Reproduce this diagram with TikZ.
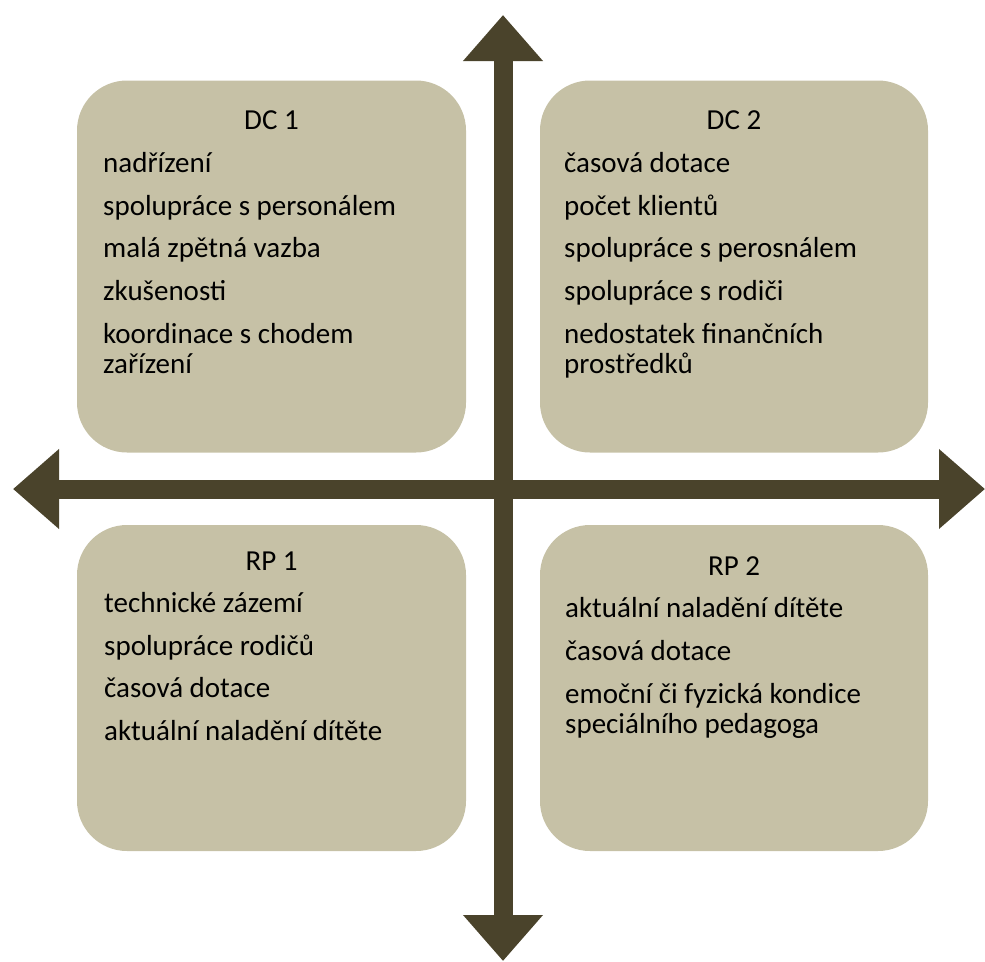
\documentclass[tikz,border=0pt]{standalone}
\usepackage{fontspec}
\setmainfont{Carlito}
\usetikzlibrary{arrows.meta}
\definecolor{boxtan}{RGB}{198,193,166}
\definecolor{arrowbrown}{RGB}{74,67,43}
\tikzset{
  quad/.style={fill=boxtan, draw=none, rounded corners=50pt, inner sep=0pt},
  ttl/.style={anchor=base, inner sep=0pt, font=\fontsize{29}{30}\selectfont},
  item/.style={anchor=base west, inner sep=0pt, align=left, font=\fontsize{29}{30}\selectfont},
  axis/.style={arrowbrown, line width=19pt,
    {Triangle[width=77pt,length=46pt]}-{Triangle[width=77pt,length=46pt]}}
}
\begin{document}
\begin{tikzpicture}[x=1pt,y=-1pt]
\useasboundingbox (0,0) rectangle (985,961);
% boxes
\node[quad, minimum width=389pt, minimum height=372pt] (dc1) at (271.5,266.5) {};
\node[quad, minimum width=388pt, minimum height=372pt] (dc2) at (734,266.5) {};
\node[quad, minimum width=389pt, minimum height=326pt] (rp1) at (271.5,688) {};
\node[quad, minimum width=388pt, minimum height=326pt] (rp2) at (734,688) {};
% axes
\coordinate (top) at (503,15);
\coordinate (bottom) at (503,961);
\coordinate (left) at (13,489);
\coordinate (right) at (985,489);
\draw[axis] (left) -- (right);
\draw[axis] (top) -- (bottom);
% DC 1 (multi-line nodes: base anchor is the last line's baseline)
\node[ttl] (t1) at (271.5,129) {DC 1};
\node[item] (a1) at (103,172) {nadřízení};
\node[item] (a2) at (103,215) {spolupráce s personálem};
\node[item] (a3) at (103,257) {malá zpětná vazba};
\node[item] (a4) at (103,300) {zkušenosti};
\node[item] (a5) at (103,373) {koordinace s chodem\\zařízení};
% DC 2
\node[ttl] (t2) at (734,129) {DC 2};
\node[item] (b1) at (564,172) {časová dotace};
\node[item] (b2) at (564,215) {počet klientů};
\node[item] (b3) at (564,257) {spolupráce s perosnálem};
\node[item] (b4) at (564,300) {spolupráce s rodiči};
\node[item] (b5) at (564,373) {nedostatek finančních\\prostředků};
% RP 1
\node[ttl] (t3) at (271.5,570) {RP 1};
\node[item] (c1) at (104,612) {technické zázemí};
\node[item] (c2) at (104,655) {spolupráce rodičů};
\node[item] (c3) at (104,697) {časová dotace};
\node[item] (c4) at (104,740) {aktuální naladění dítěte};
% RP 2
\node[ttl] (t4) at (734,575) {RP 2};
\node[item] (d1) at (565,617) {aktuální naladění dítěte};
\node[item] (d2) at (565,660) {časová dotace};
\node[item] (d3) at (565,733) {emoční či fyzická kondice\\speciálního pedagoga};
\end{tikzpicture}
\end{document}
